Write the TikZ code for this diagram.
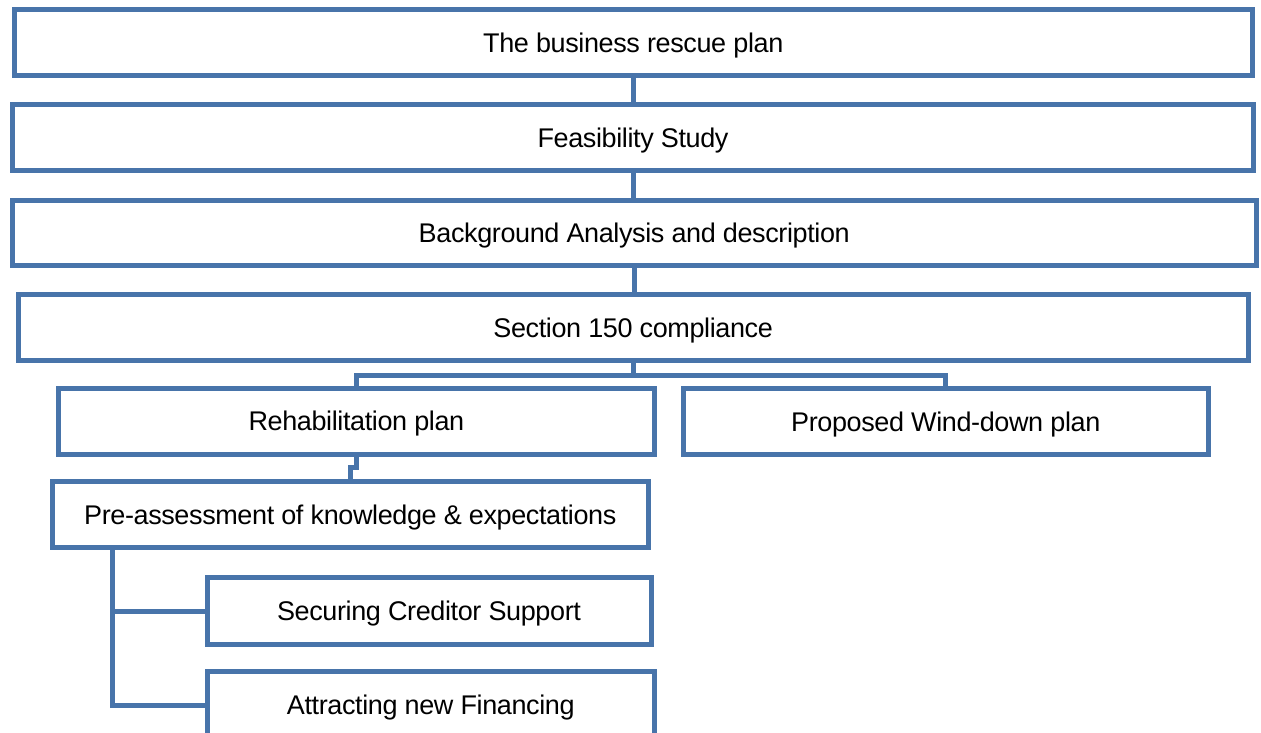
\documentclass[tikz,border=0pt]{standalone}
\usepackage{fontspec}
\setmainfont{Liberation Sans}[LetterSpace=-1.4]
\definecolor{boxblue}{RGB}{72,116,170}
\begin{document}
\begin{tikzpicture}[x=1pt,y=-1pt,
  box/.style={draw=boxblue, line width=5pt, fill=white, inner sep=0pt,
    font=\fontsize{27}{31}\selectfont, text=black, text height=19.3pt, text depth=0pt},
  link/.style={draw=boxblue, line width=5pt}]
\useasboundingbox (0,0) rectangle (1261,733);
\clip (0,0) rectangle (1261,733);
\fill[white] (0,0) rectangle (1261,733);
\node[box, minimum width=1237.5pt, minimum height=65.5pt] (b1) at (633.25,42.75) {The business rescue plan};
\node[box, minimum width=1241pt, minimum height=65.5pt] (b2) at (633,137.75) {Feasibility Study};
\node[box, minimum width=1243.5pt, minimum height=65.5pt] (b3) at (634.25,232.75) {Background Analysis and description};
\node[box, minimum width=1229.7pt, minimum height=66pt] (b4) at (633.15,327.5) {Section 150 compliance};
\node[box, minimum width=596.2pt, minimum height=65.7pt] (rehab) at (356.4,421.15) {Rehabilitation plan};
\node[box, minimum width=524.5pt, minimum height=66pt] (wind) at (945.75,421.5) {Proposed Wind-down plan};
\node[box, minimum width=596.5pt, minimum height=65.3pt] (pre) at (350.25,514.35) {Pre-assessment of knowledge \& expectations};
\node[box, minimum width=444pt, minimum height=67pt] (sec) at (429,611) {Securing Creditor Support};
\node[box, minimum width=447.5pt, minimum height=67pt] (attr) at (430.75,705) {Attracting new Financing};
\draw[link] (b1.south) -- (b1.south |- b2.north);
\draw[link] (b2.south) -- (b2.south |- b3.north);
\draw[link] (b3.south) -- (b3.south |- b4.north);
\draw[link] (b4.south) -- ++(0,12) -| (rehab.north);
\draw[link] (b4.south) -- ++(0,12) -| (wind.north);
\draw[link] (rehab.south) -- ++(0,11) -| (pre.north);
\coordinate (trunk) at (112.5,0);
\draw[link] (trunk |- pre.south) |- (sec.west);
\draw[link] (trunk |- pre.south) |- (attr.west);
\end{tikzpicture}
\end{document}
